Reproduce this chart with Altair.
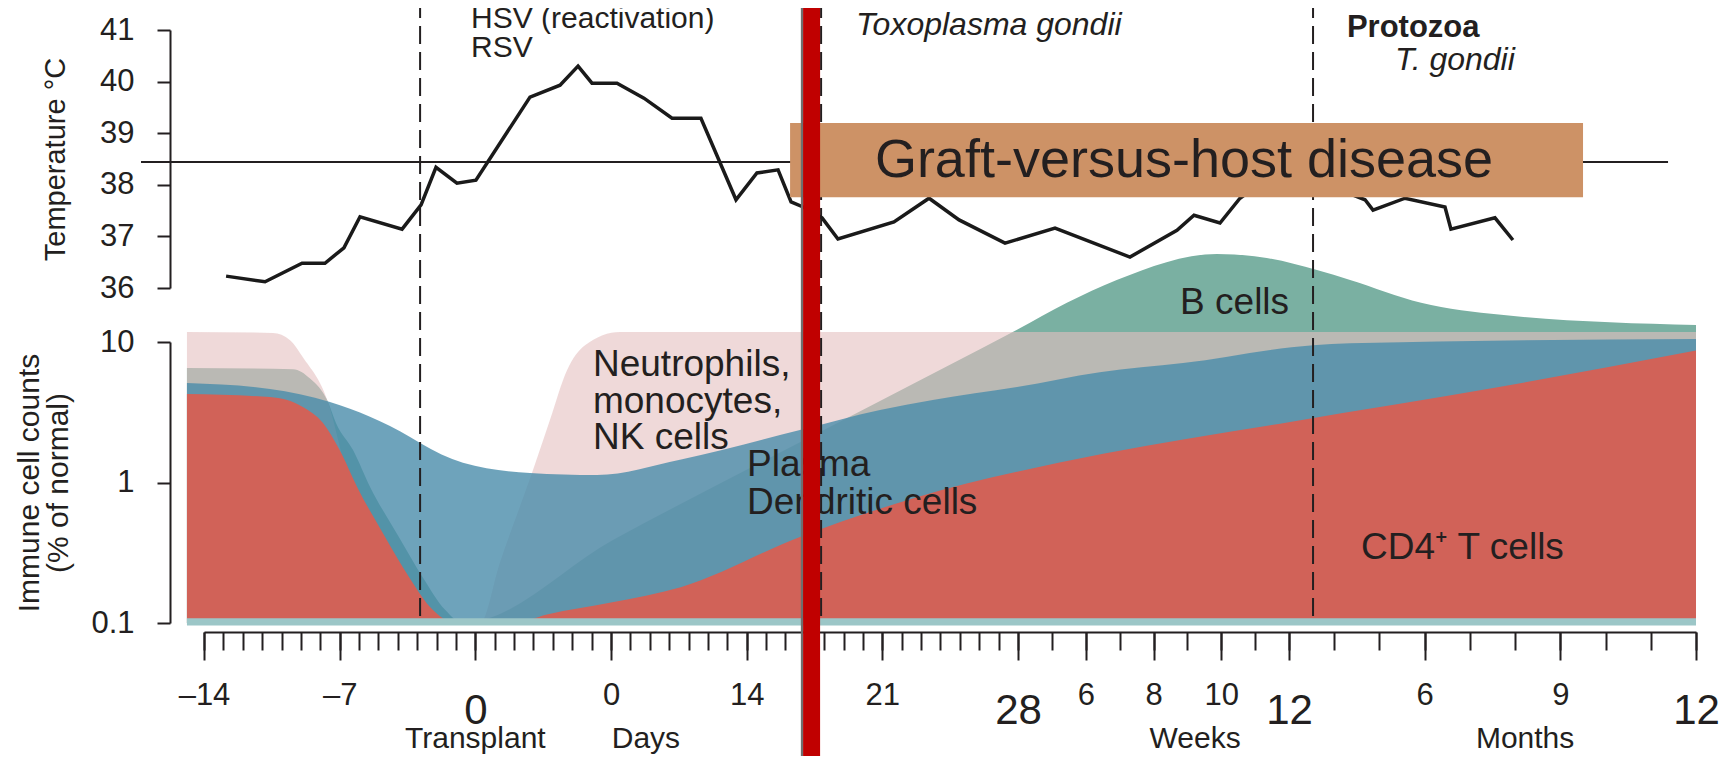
import altair as alt
import pandas as pd

FONT = "Liberation Sans"
INK = "#231f20"


def wk(w):
    return float(w * 7)


def mo(m):
    # 12 weeks ~ 3 months; months are spaced evenly up to 12 months (= day 365)
    return round(84 + (m - 3) * 281 / 9, 2)


# ---------------- temperature (°C), x in days after transplant ----------------
temp_day = [-12.86, -10.85, -8.94, -7.76, -6.78, -5.95, -3.78, -2.80, -2.03, -0.95, 0.03,
            2.82, 4.37, 5.30, 6.02, 7.31, 8.70, 10.15, 11.64, 13.45, 14.53, 15.62, 16.29,
            16.91, 17.89, 18.71, 21.60, 23.41, 24.96, 27.33, 35.65, 51.14, 60.85, 64.37,
            69.74, 73.87, 79.04, 91.6, 119.2, 136.5, 142.0, 164.1, 191.7, 195.8, 226.2, 238.6]
temp_val = [36.23, 36.12, 36.48, 36.48, 36.78, 37.38, 37.14, 37.61, 38.34, 38.03, 38.09,
            39.70, 39.93, 40.30, 39.97, 39.97, 39.68, 39.29, 39.29, 37.71, 38.23, 38.29, 37.67,
            37.57, 37.36, 36.95, 37.28, 37.74, 37.32, 36.87, 37.16, 36.60, 37.12, 37.41,
            37.26, 37.74, 38.09, 38.13, 37.90, 37.71, 37.51, 37.74, 37.57, 37.14, 37.36, 36.93]

fever_start = -17.25
fever_end = 345.7
fever_temp = 38.44

# ---------------- immune cell counts (% of normal) ----------------
bcell_day = [-14.88, -9.4, -8.53, -7.6, -7.19, -6.31, -5.43, -3.99, -2.70, -1.56, -0.64, 7.1,
             20.88, 27.95, 38.1, 48.4, 69.1, 79.4, 103.3, 126.2, 175.2, 230.5, 365.0]
bcell_val = [6.53, 6.4, 5.5, 3.74, 2.65, 1.70, 0.93, 0.42, 0.21, 0.124, 0.1, 0.39,
             3.8, 12.2, 19.0, 27.6, 42.3, 39.6, 32.5, 27.6, 19.0, 15.6, 13.2]

neut_day = [-14.88, -10.44, -9.56, -8.9, -7.6, -6.72, -5.43, -3.37, -1.8, 0.24, 1.27, 2.98,
            3.85, 4.73, 5.66, 7.47, 365.0]
neut_val = [11.8, 11.6, 10.3, 7.8, 3.74, 1.3, 0.5, 0.15, 0.1, 0.1, 0.27, 1.23,
            2.78, 6.3, 9.5, 11.8, 11.8]

dc_day = [-14.88, -10.6, -7.5, -3.37, -2.85, -0.64, 2.82, 6.28, 10.56, 16.75, 20.88, 23.6,
          27.95, 44.9, 62.1, 100.6, 126.2, 365.0]
dc_val = [5.1, 4.63, 3.74, 2.11, 1.91, 1.38, 1.17, 1.13, 1.45, 2.36, 3.28, 3.87,
          4.78, 6.1, 7.08, 9.5, 9.8, 10.5]

cd4_day = [-14.88, -10.6, -8.9, -7.86, -7.0, -6.1, -4.7, -3.4, -2.2, -1.2, 2.0, 3.7, 7.0,
           10.6, 16.75, 22.7, 45.6, 84.8, 230.0, 365.0]
cd4_val = [4.26, 4.06, 3.45, 2.65, 1.70, 0.93, 0.42, 0.21, 0.124, 0.102, 0.1, 0.115, 0.14,
           0.18, 0.41, 0.78, 1.6, 2.7, 4.8, 8.7]

baseline_start, baseline_end = -14.88, 365.0
baseline_top, baseline_bottom = 0.108, 0.096

# ---------------- annotations ----------------
dashed_days = [-2.85, 17.84, 100.6]

gvhd_start, gvhd_end = 16.24, 287.0
gvhd_low, gvhd_high = 37.76, 39.2
gvhd_label = "Graft-versus-host disease"
gvhd_label_day, gvhd_label_temp = 62.3, 38.46

top_norm_lab = ["HSV (reactivation)", "RSV"]
top_norm_day = [-0.22, -0.22]
top_norm_t = [41.21, 40.65]
top_cut_lab = ["Bacteria: monthly (weekly)"]
top_cut_day = [354.0]
top_cut_t = [41.83]
top_bold_lab = ["Protozoa", "Protozoa"]
top_bold_day = [18.35, 124.0]
top_bold_t = [41.70, 41.04]
top_ital_lab = ["Toxoplasma gondii", "T. gondii"]
top_ital_day = [19.64, 157.2]
top_ital_t = [41.10, 40.42]

cell_lab = ["Neutrophils,", "monocytes,", "NK cells", "Plasma", "Dendritic cells", "B cells",
            "CD4\u207a T cells"]
cell_day = [6.07, 6.07, 6.07, 14.02, 14.02, 61.5, 133.7]
cell_val = [6.86, 3.74, 2.07, 1.33, 0.71, 18.9, 0.342]

period_lab = ["Transplant", "Days", "Weeks", "Months"]
period_day = [0.0, 8.8, 64.6, 247.0]

overlay_gray_day = [16.86]
overlay_red_day = [17.35]

# ---------------- x axis ticks ----------------
day_ticks = list(range(-14, 29))
week_ticks = [5, 6, 7, 8, 9, 10, 11, 12]
month_ticks = [4, 5, 6, 7, 8, 9, 10, 11, 12]
small_pos = [-14.0, -7.0, 7.0, 14.0, 21.0, wk(6), wk(8), wk(10), mo(6), mo(9)]
small_lab = ["\u201314", "\u20137", "0", "14", "21", "6", "8", "10", "6", "9"]
big_pos = [0.0, 28.0, wk(12), mo(12)]
big_lab = ["0", "28", "12", "12"]

all_ticks = sorted(set([float(d) for d in day_ticks] + [wk(w) for w in week_ticks]
                       + [mo(m) for m in month_ticks]))


def lab_expr(pos, lab):
    return ("[" + ",".join("'" + s + "'" for s in lab) + "][indexof(["
            + ",".join(repr(v) for v in pos) + "], datum.value)]")


# ---------------- scales & axes ----------------
XS = dict(domain=[-14, 28, 84, 365], range=[0, 814, 1085, 1492], nice=False, zero=False)
TS = dict(domain=[36, 41], range=[258, 0], nice=False, zero=False)
IS = dict(type="log", domain=[0.1, 10], range=[593, 312], nice=False)

AX = dict(grid=False, domainColor=INK, domainWidth=2, tickColor=INK, tickWidth=2,
          labelColor=INK, labelFont=FONT, labelFlush=False, labelOverlap=False,
          labelBound=False)

ax_minor = alt.Axis(orient="bottom", values=all_ticks, tickSize=18, labels=False, offset=9,
                    title=None, domain=True, **AX)
ax_small = alt.Axis(orient="bottom", values=small_pos, tickSize=28, offset=9, domain=False,
                    labelExpr=lab_expr(small_pos, small_lab), labelFontSize=31,
                    labelPadding=20, title=None, **AX)
ax_big = alt.Axis(orient="bottom", values=big_pos, tickSize=28, offset=9, domain=False,
                  labelExpr=lab_expr(big_pos, big_lab), labelFontSize=42,
                  labelPadding=30, title=None, **AX)

ax_temp = alt.Axis(orient="left", values=[36, 37, 38, 39, 40, 41], format="d", tickSize=13,
                   labelFontSize=31, labelPadding=23, offset=34, title="Temperature \u00b0C",
                   titleFont=FONT, titleFontSize=29, titleFontWeight="normal",
                   titleColor=INK, titleX=-115, titleBaseline="middle", **AX)
ax_imm = alt.Axis(orient="left", values=[0.1, 1, 10],
                  labelExpr="datum.value < 0.5 ? '0.1' : (datum.value < 5 ? '1' : '10')",
                  tickSize=13, labelFontSize=31, labelPadding=23, offset=34,
                  title=["Immune cell counts", "(% of normal)"], titleFont=FONT,
                  titleFontSize=30, titleFontWeight="normal", titleColor=INK,
                  titleLineHeight=29, titleX=-141, titleBaseline="middle", **AX)


def xenc(field="day", axis=None):
    return alt.X(field + ":Q", scale=alt.Scale(**XS), axis=axis)


def area(days, vals, color, opacity, xaxis=None, yaxis=None):
    df = pd.DataFrame({"day": days, "v": vals})
    return alt.Chart(df).mark_area(color=color, opacity=opacity, interpolate="monotone",
                                   strokeWidth=0).encode(
        x=xenc(axis=xaxis),
        y=alt.Y("v:Q", scale=alt.Scale(**IS), axis=yaxis),
        y2=alt.datum(0.1),
    )


def texts(labels, days, ys, scale, **style):
    df = pd.DataFrame({"label": labels, "day": days, "y": ys})
    return alt.Chart(df).mark_text(font=FONT, color=INK, **style).encode(
        x=xenc(), y=alt.Y("y:Q", scale=alt.Scale(**scale), axis=None), text="label:N")


layers = []
layers.append(area(bcell_day, bcell_val, "#7AB0A2", 1.0, xaxis=ax_big))
layers.append(area(neut_day, neut_val, "#E4C0C0", 0.6))
layers.append(area(dc_day, dc_val, "#4A8CAA", 0.8))
layers.append(area(cd4_day, cd4_val, "#D16258", 1.0, xaxis=ax_small, yaxis=ax_imm))

layers.append(alt.Chart(pd.DataFrame({"x0": [baseline_start], "x1": [baseline_end],
                                      "v0": [baseline_top], "v1": [baseline_bottom]})).mark_rect(
    color="#9CC6C7").encode(
    x=xenc("x0"), x2="x1:Q", y=alt.Y("v0:Q", scale=alt.Scale(**IS), axis=None), y2="v1:Q"))

layers.append(alt.Chart(pd.DataFrame({"day": dashed_days})).mark_rule(
    color=INK, strokeWidth=2, strokeDash=[18, 8]).encode(
    x=xenc(), y=alt.value(-30), y2=alt.value(593)))

layers.append(alt.Chart(pd.DataFrame({"x0": [fever_start], "x1": [fever_end],
                                      "t": [fever_temp]})).mark_rule(
    color=INK, strokeWidth=2).encode(
    x=xenc("x0"), x2="x1:Q", y=alt.Y("t:Q", scale=alt.Scale(**TS), axis=None)))

layers.append(alt.Chart(pd.DataFrame({"day": temp_day, "temp": temp_val})).mark_line(
    color="#1a1a1a", strokeWidth=3.5).encode(
    x=xenc(axis=ax_minor), y=alt.Y("temp:Q", scale=alt.Scale(**TS), axis=ax_temp)))

layers.append(alt.Chart(pd.DataFrame({"x0": [gvhd_start], "x1": [gvhd_end],
                                      "t0": [gvhd_low], "t1": [gvhd_high]})).mark_rect(
    color="#CD9266").encode(
    x=xenc("x0"), x2="x1:Q", y=alt.Y("t0:Q", scale=alt.Scale(**TS), axis=None), y2="t1:Q"))

layers.append(texts([gvhd_label], [gvhd_label_day], [gvhd_label_temp], TS,
                    fontSize=54, align="center", baseline="middle"))
layers.append(texts(top_norm_lab, top_norm_day, top_norm_t, TS,
                    fontSize=30, align="left", baseline="middle"))
layers.append(texts(top_cut_lab, top_cut_day, top_cut_t, TS,
                    fontSize=31, align="right", baseline="middle"))
layers.append(texts(top_bold_lab, top_bold_day, top_bold_t, TS,
                    fontSize=31, fontWeight="bold", align="left", baseline="middle"))
layers.append(texts(top_ital_lab, top_ital_day, top_ital_t, TS,
                    fontSize=32, fontStyle="italic", align="left", baseline="middle"))
layers.append(texts(cell_lab, cell_day, cell_val, IS,
                    fontSize=37, align="left", baseline="middle"))

layers.append(alt.Chart(pd.DataFrame({"label": period_lab, "day": period_day})).mark_text(
    font=FONT, color=INK, fontSize=30, align="center", baseline="middle").encode(
    x=xenc(), y=alt.value(709), text="label:N"))

layers.append(alt.Chart(pd.DataFrame({"day": overlay_gray_day})).mark_rule(
    color="#6e6e6e", strokeWidth=2.5).encode(x=xenc(), y=alt.value(-40), y2=alt.value(760)))
layers.append(alt.Chart(pd.DataFrame({"day": overlay_red_day})).mark_rule(
    color="#C00000", strokeWidth=17).encode(x=xenc(), y=alt.value(-40), y2=alt.value(760)))

chart = alt.layer(*layers).resolve_scale(x="independent", y="independent").properties(
    width=1492, height=593,
    padding={"left": 196, "top": 22, "right": 25, "bottom": 133},
    autosize=alt.AutoSizeParams(type="none"),
    background="white",
).configure_view(stroke=None)

chart.save("out.html", embed_options={"renderer": "svg", "actions": False})
